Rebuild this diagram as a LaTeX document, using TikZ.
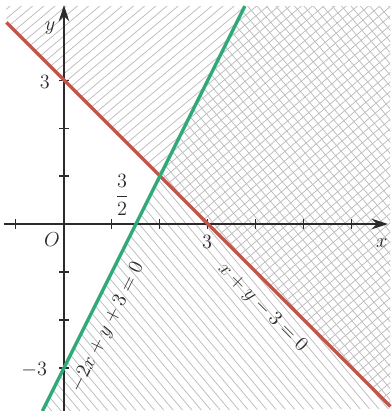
\documentclass[tikz,border=0pt]{standalone}
\usepackage{amsmath}
\usepackage{tikz}
\usetikzlibrary{positioning,arrows.meta,calc}
\definecolor{ink}{HTML}{2B2B2B}
\definecolor{lRed}{HTML}{C0564B}
\definecolor{lGreen}{HTML}{2EAA78}
\definecolor{hGray}{HTML}{BDBDBD}
\tikzset{
  axis/.style={ink, line width=0.7pt, -{Stealth[length=3.4mm, width=2.2mm]}},
  tick/.style={ink, line width=0.6pt},
  hatch/.style={hGray, line width=0.45pt},
  bound/.style={line width=2pt},
  lbl/.style={font=\large, text=ink},
}

\begin{document}
\begin{tikzpicture}
\useasboundingbox (-1.333,-3.896) rectangle (6.833,4.667);
% x + y - 3 >= 0
\begin{scope}
\clip (-1.2,4.2) -- (6.8,-3.8) -- (6.8,4.54) -- (-1.2,4.54) -- cycle;
\foreach \k in {-50,...,30} \draw[hatch, rotate=40] (-12,\k*0.15) -- (12,\k*0.15);
\end{scope}
% -2x + y + 3 <= 0
\begin{scope}
\clip (-0.448,-3.896) -- (3.77,4.54) -- (6.8,4.54) -- (6.8,-3.85) -- cycle;
\foreach \k in {-24,...,56} \draw[hatch, rotate=-50] (-12,\k*0.15) -- (12,\k*0.15);
\end{scope}
% axes
\coordinate (xs) at (-1.25,0);
\coordinate (xe) at (6.75,0);
\coordinate (ys) at (0,-3.9);
\coordinate (ye) at (0,4.56);
\draw[axis] (xs) -- (xe);
\draw[axis] (ys) -- (ye);
\foreach \t in {-1,1,2,...,6} \draw[tick] (\t,-0.1) -- (\t,0.1);
\foreach \t in {-3,-2,-1,1,2,3} \draw[tick] (-0.1,\t) -- (0.1,\t);
% boundary lines
\coordinate (r1) at (-1.2,4.2);
\coordinate (r2) at (6.8,-3.8);
\coordinate (g1) at (-0.448,-3.896);
\coordinate (g2) at (3.77,4.54);
\draw[bound, lRed] (r1) -- (r2) node[pos=0.705, sloped, below=3pt, lbl] (rlbl) {$x+y-3=0$};
\draw[bound, lGreen] (g1) -- (g2) node[pos=0.23, sloped, below=3pt, lbl] (glbl) {$-2x+y+3=0$};
% labels
\node[lbl] (orig) at (-0.25,-0.33) {$O$};
\node[lbl] (xlbl) at (6.62,-0.4) {$x$};
\node[lbl] (ylbl) at (-0.29,4.08) {$y$};
\node[lbl] (ythree) at (-0.4,2.96) {$3$};
\node[lbl] (ymthree) at (-0.62,-3.04) {$-3$};
\node[lbl] (xthree) at (2.98,-0.38) {$3$};
\node[lbl] (half) at (1.21,0.6) {$\dfrac{3}{2}$};
\end{tikzpicture}
\end{document}
